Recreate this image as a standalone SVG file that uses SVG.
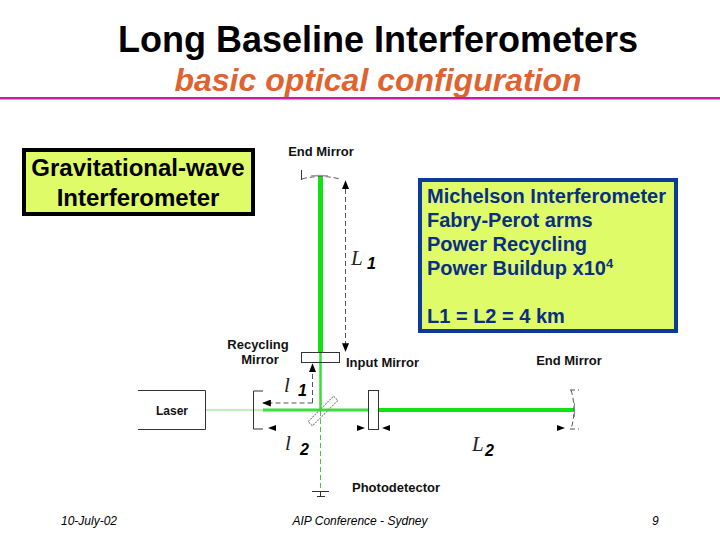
<svg xmlns="http://www.w3.org/2000/svg" width="720" height="540" viewBox="0 0 720 540">
<defs>
<marker id="ah" viewBox="0 0 10 8" refX="9" refY="4" markerWidth="9" markerHeight="7" markerUnits="userSpaceOnUse" orient="auto-start-reverse"><path d="M0 0L10 4L0 8Z" fill="#000"/></marker>
</defs>
<style>
text{font-family:"Liberation Sans",Arial,sans-serif}
.lbl{font-size:13px;font-weight:bold;fill:#111}
.box{font-size:20px;font-weight:bold;fill:#0a2e86}
.gw{font-size:24px;font-weight:bold;fill:#000}
.foot{font-size:12px;font-style:italic;fill:#000}
.dash{fill:none;stroke:#555;stroke-width:1;stroke-dasharray:5 3}
.thin{fill:none;stroke:#333;stroke-width:1}
.num{font-size:16px;font-weight:bold;font-style:italic;fill:#000}
.sym{font-family:"Liberation Serif",serif;font-size:21px;font-style:italic;fill:#222}
</style>
<rect width="720" height="540" fill="#fff"/>
<g id="title">
<text x="378" y="52" text-anchor="middle" font-size="36" font-weight="bold" fill="#000">Long Baseline Interferometers</text>
<text x="378" y="91" text-anchor="middle" font-size="32" font-weight="bold" font-style="italic" fill="#e0622f">basic optical configuration</text>
<rect x="0" y="97" width="720" height="2.500" fill="#c81fa0"/>
</g>
<g id="gw-box">
<rect x="24" y="150" width="229" height="64" fill="#dffb68" stroke="#000" stroke-width="4"/>
<text class="gw" x="138" y="176" text-anchor="middle">Gravitational-wave</text>
<text class="gw" x="138" y="206" text-anchor="middle">Interferometer</text>
</g>
<g id="info-box">
<rect x="420" y="180" width="256" height="151" fill="#dffb68" stroke="#0a3a9a" stroke-width="4"/>
<text class="box" x="427" y="203">Michelson Interferometer</text>
<text class="box" x="427" y="227">Fabry-Perot arms</text>
<text class="box" x="427" y="251">Power Recycling</text>
<text class="box" x="427" y="275">Power Buildup x10<tspan font-size="13" dy="-7">4</tspan></text>
<text class="box" x="427" y="323">L1 = L2 = 4 km</text>
</g>
<g id="connectors">
<path d="M320.500 176V352" stroke="#12e212" stroke-width="5" fill="none"/>
<path d="M320.500 352V410" stroke="#35e035" stroke-width="2.500" fill="none"/>
<path d="M263 410H320" stroke="#3fdc3f" stroke-width="3" fill="none"/>
<path d="M205 410H263" stroke="#7de07d" stroke-width="1.200" fill="none"/>
<path d="M320 410H368" stroke="#3fdc3f" stroke-width="3" fill="none"/>
<path d="M378 410H574" stroke="#12e212" stroke-width="4" fill="none"/>
<path d="M320.500 411V488" stroke="#55b855" stroke-width="1" stroke-dasharray="5 3" fill="none"/>
<path class="dash" d="M345.500 181V351" marker-start="url(#ah)" marker-end="url(#ah)"/>
<path class="dash" d="M312.500 403H263" marker-end="url(#ah)"/>
<path class="dash" d="M312.500 403V364" marker-end="url(#ah)"/>
<path d="M268 428L276 425V431Z" fill="#000"/>
<path d="M365 428L357 425V431Z" fill="#000"/>
<path d="M382 428L390 425V431Z" fill="#000"/>
<path d="M565 428L557 425V431Z" fill="#000"/>
</g>
<g id="end-mirror-top">
<text class="lbl" x="321" y="156" text-anchor="middle">End Mirror</text>
<path class="dash" d="M302 179Q320 174 340 179" stroke-dasharray="3 2"/>
<path class="thin" d="M301.500 170V180"/>
<path d="M311 176Q320 175 328 176" stroke="#999" stroke-width="1.500" fill="none"/>
</g>
<g id="l1-label">
<text class="sym" x="351" y="265">L</text>
<text class="num" x="367" y="269">1</text>
</g>
<g id="input-mirror">
<rect x="301.500" y="352.500" width="38" height="10" fill="none" stroke="#333"/>
<text class="lbl" x="346" y="367">Input Mirror</text>
</g>
<g id="recycling-label">
<text class="lbl" x="258" y="349" text-anchor="middle">Recycling</text>
<text class="lbl" x="260" y="364" text-anchor="middle">Mirror</text>
</g>
<g id="laser">
<path d="M138 390.500H205.500V429.500H138" class="thin"/>
<text x="172" y="415" text-anchor="middle" font-size="12" font-weight="bold" fill="#111">Laser</text>
</g>
<g id="recycling-mirror">
<path class="thin" d="M263 391H253.500V429H263"/>
</g>
<g id="beamsplitter">
<rect x="-3" y="-18" width="6" height="36" transform="translate(323 411) rotate(45)" fill="none" stroke="#888" stroke-dasharray="2 1"/>
</g>
<g id="compensator">
<rect x="368.500" y="390.500" width="10" height="39" fill="none" stroke="#333"/>
</g>
<g id="end-mirror-right">
<text class="lbl" x="569" y="365" text-anchor="middle">End Mirror</text>
<path class="dash" d="M570 390H579M570 429H579M571 390Q577 410 571 429" stroke-dasharray="3 2"/>
<path d="M574.500 403V417" stroke="#888" stroke-width="1" fill="none"/>
</g>
<g id="l-labels">
<text class="sym" x="284" y="392">l</text>
<text class="sym" x="285" y="450">l</text>
<text class="num" x="298" y="396">1</text>
<text class="num" x="300" y="455">2</text>
<text class="sym" x="472" y="451">L</text>
<text class="num" x="485" y="456">2</text>
</g>
<g id="photodetector">
<path class="thin" d="M312 491.500H329M317 496.500H325M320.500 491V496"/>
<text class="lbl" x="352" y="492">Photodetector</text>
</g>
<g id="footer">
<text class="foot" x="61" y="525">10-July-02</text>
<text class="foot" x="360" y="525" text-anchor="middle">AIP Conference - Sydney</text>
<text class="foot" x="652" y="525">9</text>
</g>
</svg>
